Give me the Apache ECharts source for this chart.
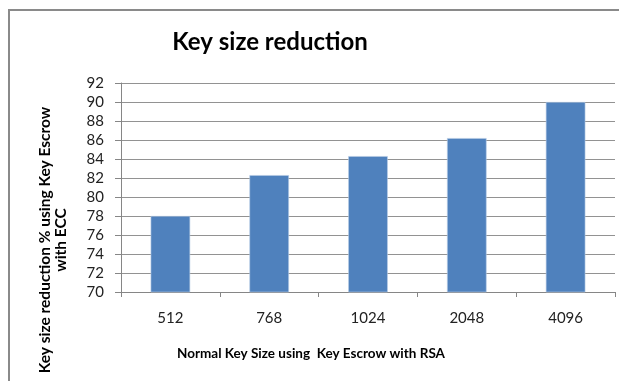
<!DOCTYPE html>
<html>
<head>
<meta charset="utf-8">
<script src="https://cdn.jsdelivr.net/npm/echarts@6/dist/echarts.min.js"></script>
<style>
  html, body { margin: 0; padding: 0; background: #fff; }
  #chart { width: 619px; height: 381px; }
</style>
</head>
<body>
<div id="chart"></div>
<script>
// Key sizes (RSA) on the category axis
const keySizes = ['512', '768', '1024', '2048', '4096'];
// Reduction percentage obtained with ECC
const reduction = [78, 82.3, 84.3, 86.2, 90];
// Value axis range
const yMin = 70, yMax = 92, yStep = 2;

const FONT = 'Lato, "Open Sans", sans-serif';
const chart = echarts.init(document.getElementById('chart'), null, { renderer: 'canvas' });

chart.setOption({
  animation: false,
  backgroundColor: '#ffffff',
  grid: { left: 121, right: 4, top: 83, bottom: 89, containLabel: false },
  graphic: [
    {
      type: 'rect', z: -1, silent: true,
      shape: { x: 9, y: 10, width: 700, height: 500 },
      style: { fill: 'none', stroke: '#8a8a8a', lineWidth: 2 }
    },
    {
      type: 'text', silent: true,
      style: {
        x: 270, y: 42, text: 'Key size reduction', align: 'center', verticalAlign: 'middle',
        font: 'bold 24px ' + FONT, fill: '#000'
      }
    },
    {
      type: 'text', silent: true,
      style: {
        x: 311, y: 354, text: 'Normal Key Size using  Key Escrow with RSA',
        align: 'center', verticalAlign: 'middle',
        font: 'bold 13.5px ' + FONT, fill: '#000'
      }
    },
    {
      type: 'text', silent: true,
      x: 45, y: 240, rotation: Math.PI / 2,
      style: {
        x: 0, y: 0, text: 'Key size reduction % using Key Escrow',
        align: 'center', verticalAlign: 'middle',
        font: 'bold 15.5px ' + FONT, fill: '#000'
      }
    },
    {
      type: 'text', silent: true,
      x: 61, y: 240, rotation: Math.PI / 2,
      style: {
        x: 0, y: 0, text: 'with ECC',
        align: 'center', verticalAlign: 'middle',
        font: 'bold 15.5px ' + FONT, fill: '#000'
      }
    }
  ],
  xAxis: {
    type: 'category',
    data: keySizes,
    axisLine: { lineStyle: { color: '#868686', width: 1 } },
    axisTick: { show: true, length: 5, inside: false, lineStyle: { color: '#868686' } },
    axisLabel: { color: '#222', fontFamily: FONT, fontSize: 15, margin: 19 },
    splitLine: { show: false }
  },
  yAxis: {
    type: 'value',
    min: yMin, max: yMax, interval: yStep,
    axisLine: { show: true, lineStyle: { color: '#868686', width: 1 } },
    axisTick: { show: true, length: 6, lineStyle: { color: '#868686' } },
    axisLabel: { color: '#222', fontFamily: FONT, fontSize: 15, margin: 17 },
    splitLine: { show: true, lineStyle: { color: '#929292', width: 1 } }
  },
  series: [{
    type: 'bar',
    data: reduction,
    barWidth: '40%',
    itemStyle: { color: '#4f81bd', borderColor: '#b9cde5', borderWidth: 0.6 }
  }]
});
</script>
</body>
</html>
